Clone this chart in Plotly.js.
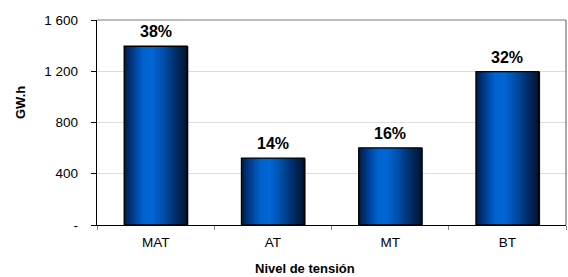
<!DOCTYPE html>
<html>
<head>
<meta charset="utf-8">
<script src="https://cdn.plot.ly/plotly-3.0.1.min.js"></script>
<style>html,body{margin:0;padding:0;background:#fff;}#chart{width:568px;height:277px;}</style>
</head>
<body>
<div id="chart"></div>
<script>
const categories = ["MAT", "AT", "MT", "BT"];
const energyGWh = [1395, 522, 602, 1197];
const shareLabels = ["38%", "14%", "16%", "32%"];
const yTickValues = [0, 400, 800, 1200, 1600];
const yTickLabels = ["-", "400", "800", "1 200", "1 600"];

const FONT = "Arial, 'Liberation Sans', sans-serif";
const BAR_W = 0.535;
const N = 28;
const stops = [
  [0.00, [0, 28, 70]],
  [0.12, [0, 55, 135]],
  [0.30, [0, 98, 205]],
  [0.45, [2, 102, 212]],
  [0.62, [0, 80, 170]],
  [0.80, [0, 48, 110]],
  [1.00, [0, 20, 48]]
];
function colorAt(t) {
  for (let i = 0; i < stops.length - 1; i++) {
    const [t0, c0] = stops[i], [t1, c1] = stops[i + 1];
    if (t >= t0 && t <= t1) {
      const f = (t - t0) / (t1 - t0);
      const c = c0.map((v, k) => Math.round(v + (c1[k] - v) * f));
      return `rgb(${c[0]},${c[1]},${c[2]})`;
    }
  }
  return "rgb(0,20,48)";
}

const traces = [];
const step = BAR_W / N;
for (let i = 0; i < N; i++) {
  traces.push({
    type: "bar",
    x: categories,
    y: energyGWh,
    width: step * 1.6,
    offset: -BAR_W / 2 + i * step,
    marker: { color: colorAt((i + 0.5) / N), line: { width: 0 } },
    hoverinfo: "skip",
    showlegend: false
  });
}
traces.push({
  type: "bar",
  x: categories,
  y: energyGWh,
  width: BAR_W,
  offset: -BAR_W / 2,
  marker: { color: "rgba(0,0,0,0)", line: { color: "#000", width: 1.4 } },
  showlegend: false
});

const annotations = categories.map((c, i) => ({
  x: c, y: energyGWh[i], xref: "x", yref: "y",
  text: "<b>" + shareLabels[i] + "</b>",
  showarrow: false, yanchor: "bottom", yshift: 4,
  font: { family: FONT, size: 16, color: "#000" }
}));
annotations.push({
  text: "<b>Nivel de tensión</b>", xref: "paper", yref: "paper",
  x: (304.5 - 97) / 469, y: -43 / 205, xanchor: "center", yanchor: "middle",
  showarrow: false, font: { family: FONT, size: 13, color: "#000" }
});
annotations.push({
  text: "<b>GW.h</b>", xref: "paper", yref: "paper",
  x: (20 - 97) / 469, y: (225 - 103) / 205, xanchor: "center", yanchor: "middle",
  textangle: -90, showarrow: false, font: { family: FONT, size: 13, color: "#000" }
});

const layout = {
  width: 568, height: 277,
  margin: { l: 97, r: 2, t: 20, b: 52 },
  paper_bgcolor: "#fff", plot_bgcolor: "#fff",
  barmode: "overlay",
  font: { family: FONT, size: 13, color: "#000" },
  annotations: annotations,
  shapes: [
    { type: "line", xref: "paper", yref: "paper", x0: 0, x1: 1, y0: 1, y1: 1, line: { color: "#777", width: 1 } },
    { type: "line", xref: "paper", yref: "paper", x0: 1, x1: 1, y0: 0, y1: 1, line: { color: "#555", width: 1 } }
  ],
  xaxis: {
    type: "category",
    showline: true, linecolor: "#000", linewidth: 1.3,
    ticks: "outside", tickson: "boundaries", ticklen: 4, tickcolor: "#888",
    ticklabelstandoff: 4,
    showgrid: false,
    tickfont: { family: FONT, size: 13.5 }
  },
  yaxis: {
    range: [0, 1600],
    tickvals: yTickValues, ticktext: yTickLabels,
    showline: true, linecolor: "#000", linewidth: 1.3,
    ticks: "outside", ticklen: 5, tickcolor: "#000",
    ticklabelstandoff: 10,
    showgrid: true, gridcolor: "#dcdcdc", gridwidth: 1,
    zeroline: false,
    tickfont: { family: FONT, size: 13.5 }
  }
};

Plotly.newPlot("chart", traces, layout, { displayModeBar: false, staticPlot: true });
</script>
</body>
</html>
